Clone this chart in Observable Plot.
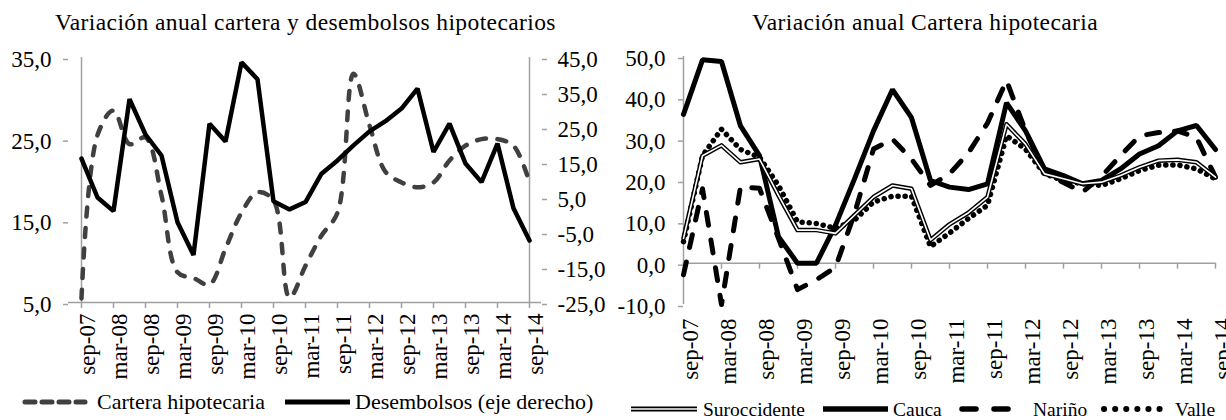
<!DOCTYPE html>
<html><head><meta charset="utf-8">
<script src="https://cdn.jsdelivr.net/npm/d3@7"></script>
<script src="https://cdn.jsdelivr.net/npm/@observablehq/plot@0.6"></script>
<style>
body{margin:0;background:#fff;font-family:"Liberation Serif","Times New Roman",serif;color:#000}
#wrap{position:relative;width:1226px;height:420px;overflow:hidden;background:#fff}
#wrap svg, #wrap svg text{font-family:"Liberation Serif","Times New Roman",serif !important}
.abs{position:absolute;white-space:nowrap;line-height:1}
.title{font-size:23.5px;letter-spacing:0.4px}
.lg{font-size:22px}
.lg2{font-size:19.5px}
svg.sample{position:absolute;overflow:visible}
</style></head><body><div id="wrap"></div>
<script>
// ---------- data ----------
const categories = ["sep-07","dic-07","mar-08","jun-08","sep-08","dic-08","mar-09","jun-09","sep-09","dic-09",
  "mar-10","jun-10","sep-10","dic-10","mar-11","jun-11","sep-11","dic-11","mar-12","jun-12",
  "sep-12","dic-12","mar-13","jun-13","sep-13","dic-13","mar-14","jun-14","sep-14"];
const tickLabels = ["sep-07","mar-08","sep-08","mar-09","sep-09","mar-10","sep-10","mar-11","sep-11",
  "mar-12","sep-12","mar-13","sep-13","mar-14","sep-14"];

// left panel (left axis)
const carteraHipotecaria = [5.5,25.5,28.5,24.4,25.2,18.1,8.7,8.0,7.2,11.6,16.0,18.5,17.5,5.6,9.5,
  13.2,16.0,33.0,26.7,21.0,19.7,19.1,19.7,22.4,24.2,25.0,25.0,24.2,19.7];
// left panel (right axis)
const desembolsos = [16.1,5.0,1.1,33.1,23.0,17.0,-2.1,-11.4,26.1,21.0,43.6,38.8,3.9,1.6,3.7,
  11.8,15.6,19.9,23.9,26.8,30.4,36.1,18.0,26.1,14.7,9.4,20.4,1.9,-7.3];
const leftTicks = [5,15,25,35];
const rightTicks = [-25,-15,-5,5,15,25,35,45];

// right panel
const suroccidente = [6.0,26.0,28.5,24.4,25.2,16.4,8.0,8.0,7.2,11.6,16.0,18.8,18.0,5.6,9.4,
  12.2,16.0,33.6,28.8,21.6,20.4,19.2,19.6,21.2,23.2,24.8,25.0,24.4,20.8];
const cauca = [36.0,49.2,48.8,33.2,26.0,6.4,0.0,0.0,9.2,20.4,32.0,42.0,35.2,20.0,18.4,
  17.8,19.2,38.8,32.0,22.8,21.2,19.2,20.0,22.8,26.4,28.4,32.0,33.3,27.5];
const narino = [-2.8,18.0,-10.0,18.5,18.1,6.0,-6.4,-4.0,-1.0,12.0,27.6,30.0,25.2,18.8,21.6,
  26.7,33.9,44.2,32.0,22.0,19.5,17.2,21.0,26.0,30.8,31.6,32.0,30.4,20.8];
const valle = [5.2,26.0,32.4,27.5,25.6,18.8,10.0,9.6,8.4,10.4,14.8,16.2,16.2,4.0,7.3,
  10.8,14.0,30.8,27.6,21.6,20.0,19.2,18.8,20.4,22.4,23.7,23.8,22.8,20.4];
const rightYTicks = [-10,0,10,20,30,40,50];

// ---------- helpers ----------
const fmt = d => d.toFixed(1).replace(".", ",");
const axisGray = "#a0a0a0";
const font = '"Liberation Serif","Times New Roman",serif';
const wrap = document.getElementById("wrap");

function place(el, left, top) { el.style.left = left + "px"; el.style.top = top + "px"; wrap.appendChild(el); }
function text(str, cls, left, top) {
  const d = document.createElement("div"); d.className = "abs " + cls; d.textContent = str; place(d, left, top); return d;
}
function sample(left, top, w, lines) {
  const ns = "http://www.w3.org/2000/svg";
  const s = document.createElementNS(ns, "svg");
  s.setAttribute("class", "sample"); s.setAttribute("width", w); s.setAttribute("height", 10);
  s.style.left = left + "px"; s.style.top = (top - 5) + "px";
  for (const a of lines) {
    const l = document.createElementNS(ns, "line");
    l.setAttribute("x1", 0); l.setAttribute("x2", w); l.setAttribute("y1", 5); l.setAttribute("y2", 5);
    for (const k in a) l.setAttribute(k, a[k]);
    s.appendChild(l);
  }
  wrap.appendChild(s);
}

// ---------- left panel ----------
const toLeft = v => 5 + (v + 25) * 30 / 70;
const fromLeft = d => (d - 5) * 70 / 30 - 25;
const leftData = categories.map((c, i) => ({c, cartera: carteraHipotecaria[i], des: desembolsos[i]}));

const L = Plot.plot({
  width: 600, height: 390, marginLeft: 68, marginRight: 59, marginTop: 57, marginBottom: 88,
  style: {fontFamily: font, fontSize: "23px", color: "#000", background: "transparent", overflow: "visible"},
  x: {type: "point", domain: categories, padding: 0, axis: null},
  y: {domain: [5, 35], axis: null},
  marks: [
    Plot.ruleX([categories[0], categories[categories.length - 1]], {stroke: axisGray, strokeWidth: 1.5}),
    Plot.ruleY([5], {stroke: axisGray, strokeWidth: 1.5}),
    Plot.axisY({ticks: leftTicks, label: null, tickSize: 5, tickPadding: 12, tickFormat: fmt, stroke: axisGray, strokeWidth: 1.5, fill: "#000", dy: 2}),
    Plot.axisY(rightTicks.map(toLeft), {anchor: "right", label: null, tickSize: 5, tickPadding: 11, tickFormat: d => fmt(Math.round(fromLeft(d) * 10) / 10), stroke: axisGray, strokeWidth: 1.5, fill: "#000", dy: 2}),
    Plot.axisX({ticks: tickLabels, label: null, tickSize: 6, tickFormat: () => "", stroke: axisGray, strokeWidth: 1.5}),
    Plot.axisX({ticks: tickLabels, label: null, tickSize: 0, tickRotate: -90, tickPadding: 11, dx: 6, fill: "#000"}),
    Plot.line(leftData, {x: "c", y: "cartera", stroke: "#404040", strokeWidth: 4.5, strokeDasharray: "9,11.5", strokeLinecap: "round", curve: "catmull-rom"}),
    Plot.line(leftData, {x: "c", y: d => toLeft(d.des), stroke: "#000", strokeWidth: 4.5, strokeLinejoin: "miter"})
  ]
});
L.style.position = "absolute"; L.style.left = "0px"; L.style.top = "0px";
wrap.appendChild(L);

// ---------- right panel ----------
const rightData = categories.map((c, i) => ({c, suroccidente: suroccidente[i], cauca: cauca[i], narino: narino[i], valle: valle[i]}));
const rH = 390, rTop = 56, rBottom = 86;
const zeroOffset = (rH - rTop - rBottom) * (0 - (-10)) / (50 - (-10));

const R = Plot.plot({
  width: 626, height: rH, marginLeft: 83, marginRight: 11, marginTop: rTop, marginBottom: rBottom,
  style: {fontFamily: font, fontSize: "23px", color: "#000", background: "transparent", overflow: "visible"},
  x: {type: "point", domain: categories, padding: 0, axis: null},
  y: {domain: [-10, 50], axis: null},
  marks: [
    Plot.ruleX([categories[0]], {stroke: axisGray, strokeWidth: 1.5}),
    Plot.ruleY([0], {stroke: axisGray, strokeWidth: 1.5}),
    Plot.axisY({ticks: rightYTicks, label: null, tickSize: 5, tickPadding: 13, tickFormat: fmt, stroke: axisGray, strokeWidth: 1.5, fill: "#000", dy: 2}),
    Plot.axisX({ticks: tickLabels, label: null, tickSize: 6, tickFormat: () => "", stroke: axisGray, strokeWidth: 1.5, dy: -zeroOffset}),
    Plot.axisX({ticks: tickLabels, label: null, tickSize: 0, tickRotate: -90, tickPadding: 14, dx: 7, fill: "#000"}),
    Plot.line(rightData, {x: "c", y: "narino", stroke: "#000", strokeWidth: 5, strokeDasharray: "13,15", strokeLinecap: "round"}),
    Plot.line(rightData, {x: "c", y: "cauca", stroke: "#000", strokeWidth: 5, strokeLinejoin: "miter"}),
    Plot.line(rightData, {x: "c", y: "valle", stroke: "#000", strokeWidth: 5.5, strokeDasharray: "0.1,7", strokeLinecap: "round"}),
    Plot.line(rightData, {x: "c", y: "suroccidente", stroke: "#000", strokeWidth: 4.5}),
    Plot.line(rightData, {x: "c", y: "suroccidente", stroke: "#fff", strokeWidth: 1.6})
  ]
});
R.style.position = "absolute"; R.style.left = "600px"; R.style.top = "0px";
wrap.appendChild(R);

// ---------- titles ----------
text("Variación anual cartera y desembolsos hipotecarios", "title", 55, 11);
text("Variación anual Cartera hipotecaria", "title", 752, 11);

// ---------- legends ----------
sample(25, 402, 60, [{stroke: "#404040", "stroke-width": 5, "stroke-dasharray": "10,7", "stroke-linecap": "round"}]);
text("Cartera hipotecaria", "lg", 97, 391);
sample(285, 402, 65, [{stroke: "#000", "stroke-width": 5}]);
text("Desembolsos (eje derecho)", "lg", 355, 391);

sample(631, 409, 66, [{stroke: "#000", "stroke-width": 5}, {stroke: "#fff", "stroke-width": 1.6}]);
text("Suroccidente", "lg2", 703, 400);
sample(823, 409, 65, [{stroke: "#000", "stroke-width": 5.5}]);
text("Cauca", "lg2", 893, 400);
sample(962, 409, 58, [{stroke: "#000", "stroke-width": 5.5, "stroke-dasharray": "14,18", "stroke-linecap": "round"}]);
text("Nariño", "lg2", 1033, 400);
sample(1104, 409, 64, [{stroke: "#000", "stroke-width": 6, "stroke-dasharray": "0.1,11", "stroke-linecap": "round"}]);
text("Valle", "lg2", 1175, 400);
</script>
</body></html>
